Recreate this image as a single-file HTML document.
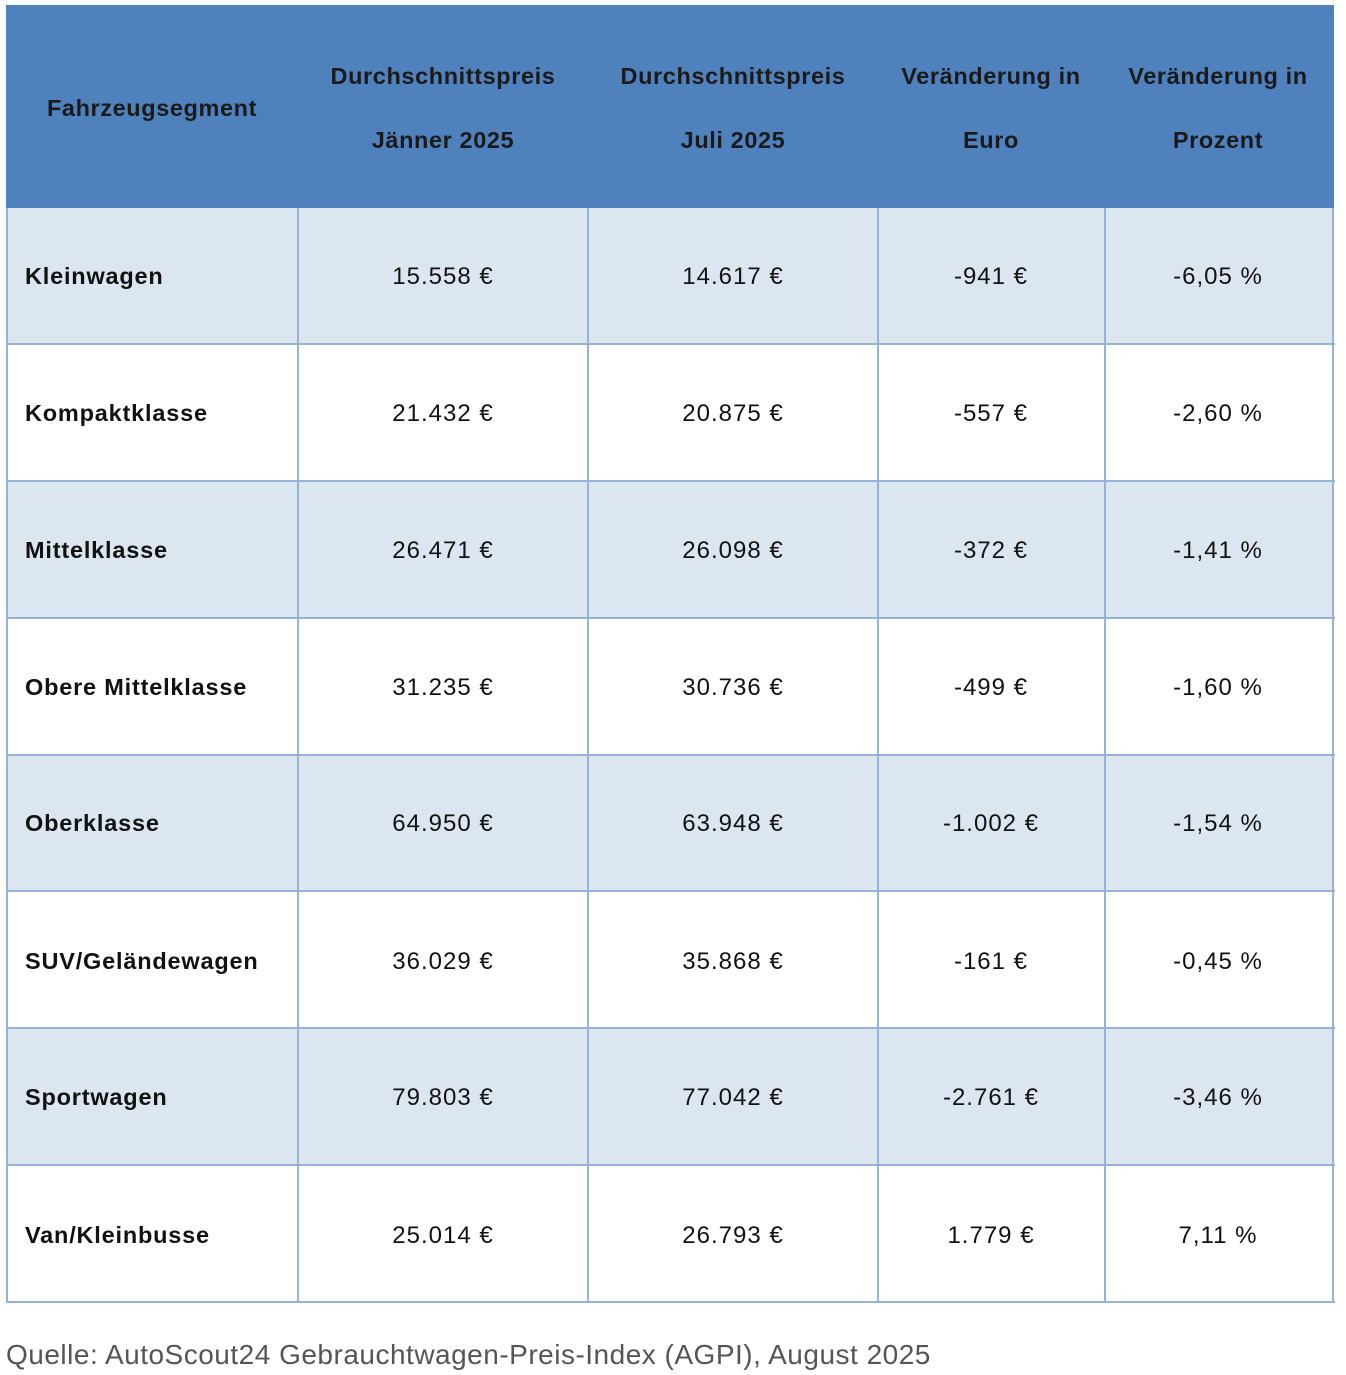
<!DOCTYPE html>
<html><head><meta charset="utf-8"><style>
body{margin:0;background:#fff;width:1346px;height:1375px;position:relative;font-family:"Liberation Sans",sans-serif;}
.hdr{position:absolute;left:6px;top:5px;width:1328px;height:203px;background:#4f81bd;}
.t{position:absolute;white-space:nowrap;color:#111;}
.h{font-weight:bold;font-size:23.5px;color:#1a1a1a;transform:translateX(-50%);letter-spacing:0.6px}
.c{font-size:24px;transform:translateX(-50%);letter-spacing:1px}
.l{font-weight:bold;font-size:23.5px;left:25px;letter-spacing:0.8px}
.row{position:absolute;left:6px;width:1328px;}
.vl{position:absolute;width:2px;background:#95b3d7;}
.hl{position:absolute;height:2px;left:6px;width:1329px;background:#95b3d7;}
</style></head><body>
<div class="hdr"></div>
<div class="row" style="top:208px;height:136px;background:#dce6f1"></div>
<div class="row" style="top:481px;height:137px;background:#dce6f1"></div>
<div class="row" style="top:755px;height:136px;background:#dce6f1"></div>
<div class="row" style="top:1028px;height:137px;background:#dce6f1"></div>
<div class="vl" style="left:6px;top:208px;height:1095px"></div>
<div class="vl" style="left:297px;top:208px;height:1095px"></div>
<div class="vl" style="left:587px;top:208px;height:1095px"></div>
<div class="vl" style="left:877px;top:208px;height:1095px"></div>
<div class="vl" style="left:1104px;top:208px;height:1095px"></div>
<div class="vl" style="left:1332px;top:208px;height:1095px"></div>
<div class="hl" style="top:343px"></div>
<div class="hl" style="top:480px"></div>
<div class="hl" style="top:617px"></div>
<div class="hl" style="top:754px"></div>
<div class="hl" style="top:890px"></div>
<div class="hl" style="top:1027px"></div>
<div class="hl" style="top:1164px"></div>
<div class="hl" style="top:1301px"></div>

<div class="t h" style="left:152px;top:95px">Fahrzeugsegment</div>
<div class="t h" style="left:443px;top:63px">Durchschnittspreis</div>
<div class="t h" style="left:443px;top:127px">Jänner 2025</div>
<div class="t h" style="left:733px;top:63px">Durchschnittspreis</div>
<div class="t h" style="left:733px;top:127px">Juli 2025</div>
<div class="t h" style="left:991px;top:63px">Veränderung in</div>
<div class="t h" style="left:991px;top:127px">Euro</div>
<div class="t h" style="left:1218px;top:63px">Veränderung in</div>
<div class="t h" style="left:1218px;top:127px">Prozent</div>

<div class="t l" style="top:263px">Kleinwagen</div>
<div class="t c" style="left:443px;top:263px">15.558 €</div>
<div class="t c" style="left:733px;top:263px">14.617 €</div>
<div class="t c" style="left:991px;top:263px">-941 €</div>
<div class="t c" style="left:1218px;top:263px">-6,05 %</div>

<div class="t l" style="top:400px">Kompaktklasse</div>
<div class="t c" style="left:443px;top:400px">21.432 €</div>
<div class="t c" style="left:733px;top:400px">20.875 €</div>
<div class="t c" style="left:991px;top:400px">-557 €</div>
<div class="t c" style="left:1218px;top:400px">-2,60 %</div>

<div class="t l" style="top:537px">Mittelklasse</div>
<div class="t c" style="left:443px;top:537px">26.471 €</div>
<div class="t c" style="left:733px;top:537px">26.098 €</div>
<div class="t c" style="left:991px;top:537px">-372 €</div>
<div class="t c" style="left:1218px;top:537px">-1,41 %</div>

<div class="t l" style="top:674px">Obere Mittelklasse</div>
<div class="t c" style="left:443px;top:674px">31.235 €</div>
<div class="t c" style="left:733px;top:674px">30.736 €</div>
<div class="t c" style="left:991px;top:674px">-499 €</div>
<div class="t c" style="left:1218px;top:674px">-1,60 %</div>

<div class="t l" style="top:810px">Oberklasse</div>
<div class="t c" style="left:443px;top:810px">64.950 €</div>
<div class="t c" style="left:733px;top:810px">63.948 €</div>
<div class="t c" style="left:991px;top:810px">-1.002 €</div>
<div class="t c" style="left:1218px;top:810px">-1,54 %</div>

<div class="t l" style="top:948px">SUV/Geländewagen</div>
<div class="t c" style="left:443px;top:948px">36.029 €</div>
<div class="t c" style="left:733px;top:948px">35.868 €</div>
<div class="t c" style="left:991px;top:948px">-161 €</div>
<div class="t c" style="left:1218px;top:948px">-0,45 %</div>

<div class="t l" style="top:1084px">Sportwagen</div>
<div class="t c" style="left:443px;top:1084px">79.803 €</div>
<div class="t c" style="left:733px;top:1084px">77.042 €</div>
<div class="t c" style="left:991px;top:1084px">-2.761 €</div>
<div class="t c" style="left:1218px;top:1084px">-3,46 %</div>

<div class="t l" style="top:1222px">Van/Kleinbusse</div>
<div class="t c" style="left:443px;top:1222px">25.014 €</div>
<div class="t c" style="left:733px;top:1222px">26.793 €</div>
<div class="t c" style="left:991px;top:1222px">1.779 €</div>
<div class="t c" style="left:1218px;top:1222px">7,11 %</div>

<div class="t" style="left:6px;top:1339px;font-size:28px;color:#555;letter-spacing:0.5px">Quelle: AutoScout24 Gebrauchtwagen-Preis-Index (AGPI), August 2025</div>
</body></html>
